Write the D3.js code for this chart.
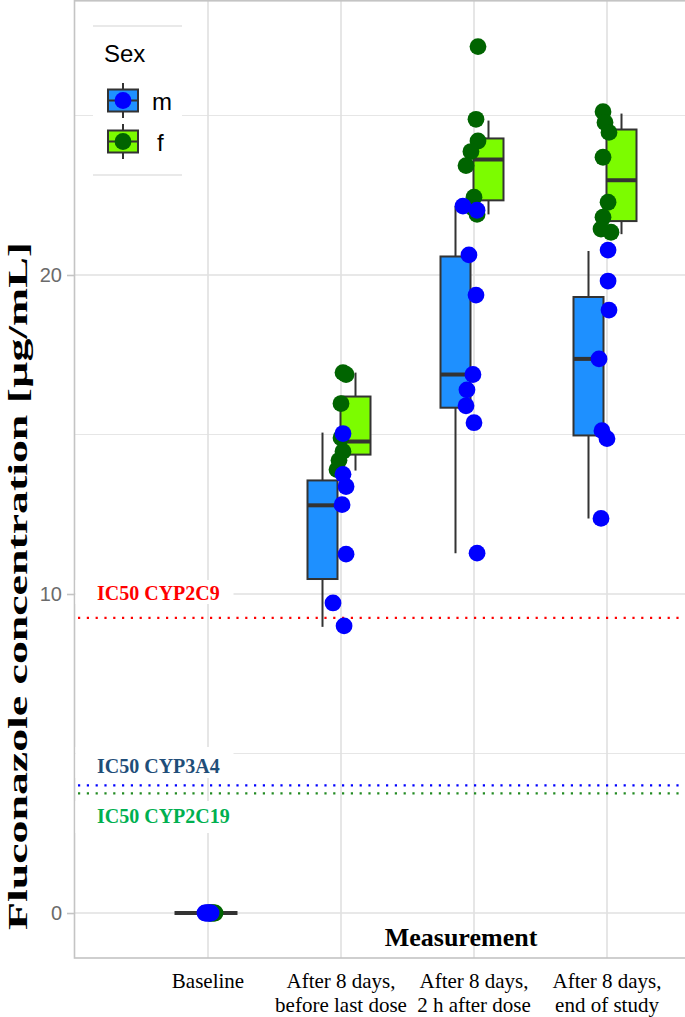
<!DOCTYPE html>
<html>
    <head>
        <title>Fluconazole concentration</title>
        <script src="https://d3js.org/d3.v7.min.js"></script>
        <style>
         body { margin: 0; background: #fff; }
         svg { display: block; }
        </style>
    </head>
    <body>
        <svg width="685" height="1017"></svg>
        <script>
         // ---- data ----
         const categories = ["Baseline", "before", "2h", "end"];
         const categoryLabels = [
             ["Baseline"],
             ["After 8 days,", "before last dose"],
             ["After 8 days,", "2 h after dose"],
             ["After 8 days,", "end of study"]
         ];
         const sexes = ["m", "f"];

         // box stats per category: [lower whisker, q1, median, q3, upper whisker]
         const boxM = [
             [0, 0, 0, 0, 0],
             [8.97, 10.47, 12.78, 13.56, 15.06],
             [11.28, 15.84, 16.88, 20.58, 22.16],
             [12.37, 14.97, 17.37, 19.31, 20.75]
         ];
         const boxF = [
             [0, 0, 0, 0, 0],
             [13.87, 14.37, 14.78, 16.19, 16.94],
             [21.9, 22.34, 23.62, 24.28, 24.84],
             [21.28, 21.69, 22.97, 24.56, 25.06]
         ];

         // individual values, with the jitter (in category units) seen in the picture
         const valuesM = [
             [0, 0, 0, 0, 0, 0, 0],
             [15.03, 13.75, 13.37, 12.8, 11.25, 9.72, 9.0],
             [22.16, 22.03, 20.63, 19.37, 16.88, 16.4, 15.9, 15.37, 11.28],
             [20.78, 19.81, 18.9, 17.37, 15.12, 14.87, 12.37]
         ];
         const jitterM = [
             [0, 0.015, -0.023, 0.023, -0.008, 0.008, -0.015],
             [0.015, 0.015, 0.038, 0.008, 0.038, -0.06, 0.023],
             [-0.083, 0.023, -0.038, 0.015, -0.008, -0.053, -0.06, 0, 0.023],
             [0.008, 0.008, 0.015, -0.06, -0.038, 0, -0.045]
         ];
         const valuesF = [
             [0, 0, 0, 0, 0, 0, 0],
             [16.94, 16.88, 15.97, 14.9, 14.47, 14.19, 13.9],
             [27.16, 24.88, 24.2, 23.87, 23.43, 22.44, 22.1, 21.9],
             [25.12, 24.78, 24.47, 23.69, 22.28, 21.81, 21.44, 21.34]
         ];
         const jitterF = [
             [0.03, 0.045, 0.015, 0.038, 0.023, 0.053, 0.008],
             [0.015, 0.038, 0, 0, 0.015, -0.015, -0.03],
             [0.03, 0.015, 0.03, -0.023, -0.06, 0, -0.008, 0.023],
             [-0.03, -0.015, 0.015, -0.03, 0.008, -0.03, -0.045, 0.03]
         ];

         const ic50Names = ["IC50 CYP2C9", "IC50 CYP3A4", "IC50 CYP2C19"];
         const ic50Values = [9.25, 4.0, 3.75];

         const yTicks = [0, 10, 20];
         const yMinor = [5, 15, 25];

         // ---- layout ----
         const svg = d3.select("svg");
         const width = +svg.attr("width");
         const height = +svg.attr("height");

         const panel = {left: 75, top: 0, bottom: 958, right: 700};
         const serif = "'Liberation Serif', 'Times New Roman', serif";
         const sans = "'Liberation Sans', Arial, sans-serif";

         const xScale = d3.scalePoint().domain(categories).range([208, 607]);
         const step = xScale.step();
         const yScale = d3.scaleLinear().domain([-1.41, 28.62]).range([panel.bottom, panel.top]);

         const fillColor = {m: "#1e90ff", f: "#7cfc00"};
         const pointColor = {m: "#0000ff", f: "#006400"};
         const dodge = {m: -18.5, f: 14.5};
         const boxW = 30;
         const pointR = 8.4;

         // grid
         const grid = svg.append("g");
         grid.selectAll(".hminor")
             .data(yMinor)
             .join("line")
             .attr("x1", panel.left).attr("x2", width)
             .attr("y1", d => yScale(d)).attr("y2", d => yScale(d))
             .attr("stroke", "#e6e6e6").attr("stroke-width", 1.2);
         grid.selectAll(".hmajor")
             .data(yTicks)
             .join("line")
             .attr("x1", panel.left).attr("x2", width)
             .attr("y1", d => yScale(d)).attr("y2", d => yScale(d))
             .attr("stroke", "#e0e0e0").attr("stroke-width", 1.6);
         grid.selectAll(".vmajor")
             .data(categories)
             .join("line")
             .attr("x1", d => xScale(d)).attr("x2", d => xScale(d))
             .attr("y1", panel.top).attr("y2", panel.bottom)
             .attr("stroke", "#e0e0e0").attr("stroke-width", 1.6);

         // panel border
         svg.append("rect")
            .attr("x", panel.left - 0.5)
            .attr("y", 0.8)
            .attr("width", panel.right - panel.left)
            .attr("height", panel.bottom - 0.8)
            .attr("fill", "none")
            .attr("stroke", "#c4c4c4")
            .attr("stroke-width", 1.6);

         // y axis
         const yAxis = svg.append("g")
            .attr("transform", `translate(${panel.left},0)`)
            .call(d3.axisLeft(yScale).tickValues(yTicks).tickSize(8).tickPadding(5));
         yAxis.select(".domain").remove();
         yAxis.selectAll(".tick line").attr("stroke", "#c4c4c4").attr("stroke-width", 1.6);
         yAxis.selectAll(".tick text")
              .attr("fill", "#6b6b6b")
              .style("font-family", sans)
              .style("font-size", "20px");

         // y title (stretched along its length like the source figure)
         svg.append("text")
            .attr("transform", "translate(27,586) rotate(-90)")
            .attr("text-anchor", "middle")
            .attr("textLength", 688)
            .attr("lengthAdjust", "spacingAndGlyphs")
            .style("font-family", serif)
            .style("font-weight", "bold")
            .style("font-size", "28px")
            .text("Fluconazole concentration [µg/mL]");

         // x labels
         const xLab = svg.append("g");
         categories.forEach((c, i) => {
             const t = xLab.append("text")
                           .attr("x", xScale(c))
                           .attr("y", 988)
                           .attr("text-anchor", "middle")
                           .style("font-family", serif)
                           .style("font-size", "21px");
             categoryLabels[i].forEach((line, j) => {
                 t.append("tspan")
                  .attr("x", xScale(c))
                  .attr("dy", j === 0 ? 0 : 24)
                  .text(line);
             });
         });

         svg.append("text")
            .attr("x", 461)
            .attr("y", 946)
            .attr("text-anchor", "middle")
            .style("font-family", serif)
            .style("font-weight", "bold")
            .style("font-size", "26px")
            .text("Measurement");

         // IC50 reference lines
         const ic50TextColor = ["#ff0000", "#1f4e79", "#00b050"];
         const ic50LineColor = ["#ff0000", "#0000ff", "#228b22"];
         const ic50Baseline = [600, 773, 823];
         const ic50Rect = [[580, 604], [747, 778], [801, 833]];

         ic50Names.forEach((name, i) => {
             svg.append("rect")
                .attr("x", panel.left + 0.5)
                .attr("y", ic50Rect[i][0])
                .attr("width", 158)
                .attr("height", ic50Rect[i][1] - ic50Rect[i][0])
                .attr("fill", "#fff");
             svg.append("text")
                .attr("x", 97)
                .attr("y", ic50Baseline[i])
                .attr("fill", ic50TextColor[i])
                .style("font-family", serif)
                .style("font-weight", "bold")
                .style("font-size", "20px")
                .text(name);
         });
         svg.selectAll(".ic50")
            .data(ic50Values)
            .join("line")
            .attr("x1", panel.left + 3).attr("x2", width)
            .attr("y1", d => yScale(d)).attr("y2", d => yScale(d))
            .attr("stroke", (d, i) => ic50LineColor[i])
            .attr("stroke-width", 2.2)
            .attr("stroke-dasharray", "2.2,6.6");

         // boxplots
         function drawBox(g, cx, s, col) {
             g.append("line")
              .attr("x1", cx).attr("x2", cx)
              .attr("y1", yScale(s[0])).attr("y2", yScale(s[4]))
              .attr("stroke", "#333").attr("stroke-width", 2);
             g.append("rect")
              .attr("x", cx - boxW / 2)
              .attr("y", yScale(s[3]))
              .attr("width", boxW)
              .attr("height", yScale(s[1]) - yScale(s[3]))
              .attr("fill", col)
              .attr("stroke", "#333")
              .attr("stroke-width", 2);
             g.append("line")
              .attr("x1", cx - boxW / 2).attr("x2", cx + boxW / 2)
              .attr("y1", yScale(s[2])).attr("y2", yScale(s[2]))
              .attr("stroke", "#333").attr("stroke-width", 4);
         }

         const boxes = svg.append("g");
         categories.forEach((c, i) => {
             drawBox(boxes, xScale(c) + dodge.m, boxM[i], fillColor.m);
             drawBox(boxes, xScale(c) + dodge.f, boxF[i], fillColor.f);
         });

         // jittered points, per category f first then m on top
         const pts = [];
         categories.forEach((c, i) => {
             valuesF[i].forEach((v, k) => pts.push({c: c, v: v, j: jitterF[i][k], sex: "f"}));
             valuesM[i].forEach((v, k) => pts.push({c: c, v: v, j: jitterM[i][k], sex: "m"}));
         });

         svg.append("g")
            .selectAll("circle")
            .data(pts)
            .join("circle")
            .attr("cx", d => xScale(d.c) + d.j * step)
            .attr("cy", d => yScale(d.v))
            .attr("r", pointR)
            .attr("fill", d => pointColor[d.sex]);

         // legend
         const legend = svg.append("g");
         legend.append("rect")
               .attr("x", 93).attr("y", 26)
               .attr("width", 89).attr("height", 149)
               .attr("fill", "#fff");
         [26, 175].forEach(y => {
             legend.append("line")
                   .attr("x1", 93).attr("x2", 182)
                   .attr("y1", y).attr("y2", y)
                   .attr("stroke", "#e2e2e2").attr("stroke-width", 1.3);
         });
         legend.append("text")
               .attr("x", 104).attr("y", 62)
               .style("font-family", sans)
               .style("font-size", "24px")
               .text("Sex");

         const keyY = {m: 100.5, f: 141.5};
         sexes.forEach(s => {
             const cy = keyY[s];
             legend.append("line")
                   .attr("x1", 123).attr("x2", 123)
                   .attr("y1", cy - 17.5).attr("y2", cy + 17.5)
                   .attr("stroke", "#333").attr("stroke-width", 2);
             legend.append("rect")
                   .attr("x", 108).attr("y", cy - 11)
                   .attr("width", 30).attr("height", 22)
                   .attr("fill", fillColor[s])
                   .attr("stroke", "#333").attr("stroke-width", 2);
             legend.append("line")
                   .attr("x1", 108).attr("x2", 138)
                   .attr("y1", cy).attr("y2", cy)
                   .attr("stroke", "#333").attr("stroke-width", 2);
             legend.append("circle")
                   .attr("cx", 123).attr("cy", cy)
                   .attr("r", pointR)
                   .attr("fill", pointColor[s]);
             legend.append("text")
                   .attr("x", s === "m" ? 152 : 157)
                   .attr("y", cy + 9)
                   .style("font-family", sans)
                   .style("font-size", "24px")
                   .text(s);
         });
        </script>
    </body>
</html>
